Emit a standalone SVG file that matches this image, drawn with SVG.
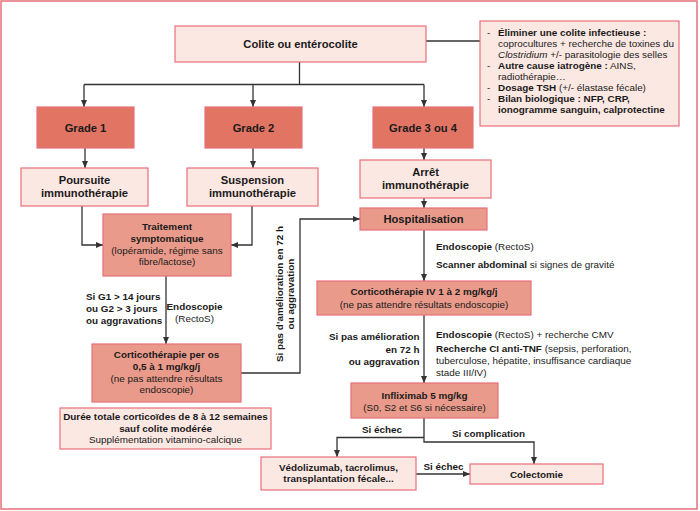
<svg xmlns="http://www.w3.org/2000/svg" width="700" height="511" viewBox="0 0 700 511">
<defs>
<style>
.frame{fill:#ffffff;stroke:#e6707a;stroke-width:1.5}
.dk{fill:#e27464;stroke:#e8707a;stroke-width:1.2}
.md{fill:#e99a8b;stroke:#e8707a;stroke-width:1.2}
.lt{fill:#fce8e3;stroke:#e8707a;stroke-width:1.2}
text{font-family:"Liberation Sans",Arial,sans-serif;fill:#1a1a1a}
.big{font-size:11.2px;font-weight:bold;text-anchor:middle}
.sb{font-size:9.9px;font-weight:bold}
.sn{font-size:9.9px}
.c{text-anchor:middle}
.r{text-anchor:end}
.b{font-weight:bold}
.i{font-style:italic}
.ln{fill:none;stroke:#333333;stroke-width:1.3}
</style>
<marker id="ar" markerUnits="userSpaceOnUse" markerWidth="7" markerHeight="6" viewBox="0 0 7 6" refX="7" refY="3" orient="auto">
<path d="M0,0 L7,3 L0,6 z" fill="#333333"/>
</marker>
</defs>
<rect class="frame" x="1" y="1" width="696" height="508"/>

<g id="connectors">
<path class="ln" d="M426,41 H480"/>
<path class="ln" d="M299.5,62 V84.5 M84,84.5 H424"/>
<path class="ln" d="M84,84.5 V107" marker-end="url(#ar)"/>
<path class="ln" d="M253,84.5 V107" marker-end="url(#ar)"/>
<path class="ln" d="M424,84.5 V107" marker-end="url(#ar)"/>
<path class="ln" d="M85,148 V168" marker-end="url(#ar)"/>
<path class="ln" d="M253,148 V168" marker-end="url(#ar)"/>
<path class="ln" d="M424,148 V160" marker-end="url(#ar)"/>
<path class="ln" d="M424,198 V208" marker-end="url(#ar)"/>
<path class="ln" d="M82,206 V245 H103" marker-end="url(#ar)"/>
<path class="ln" d="M252,206 V245 H231" marker-end="url(#ar)"/>
<path class="ln" d="M166,276 V344" marker-end="url(#ar)"/>
<path class="ln" d="M241,373 H300 V219 H360" marker-end="url(#ar)"/>
<path class="ln" d="M424,230 V281" marker-end="url(#ar)"/>
<path class="ln" d="M424,315 V383" marker-end="url(#ar)"/>
<path class="ln" d="M424,418 V442 H534 V464" marker-end="url(#ar)"/>
<path class="ln" d="M424,437.5 H337 V457" marker-end="url(#ar)"/>
<path class="ln" d="M416,474 H470" marker-end="url(#ar)"/>
</g>

<g id="colite">
<rect class="lt" x="175" y="26" width="251" height="36"/>
<text class="big" x="300.5" y="47.5">Colite ou entérocolite</text>
</g>

<g id="bilan">
<rect class="lt" x="480" y="21" width="199" height="105"/>
<text class="sn" x="487" y="35.7">-</text>
<text class="sn b" x="498" y="35.7">Éliminer une colite infectieuse :</text>
<text class="sn" x="498" y="46.8">coprocultures + recherche de toxines du</text>
<text class="sn" x="498" y="57.9"><tspan class="i">Clostridium</tspan> +/- parasitologie des selles</text>
<text class="sn" x="487" y="69">-</text>
<text class="sn" x="498" y="69"><tspan class="b">Autre cause iatrogène :</tspan> AINS,</text>
<text class="sn" x="498" y="79.6">radiothérapie…</text>
<text class="sn" x="487" y="90.7">-</text>
<text class="sn" x="498" y="90.7"><tspan class="b">Dosage TSH</tspan> (+/- élastase fécale)</text>
<text class="sn" x="487" y="101.8">-</text>
<text class="sn b" x="498" y="101.8">Bilan biologique : NFP, CRP,</text>
<text class="sn b" x="498" y="113.3">ionogramme sanguin, calprotectine</text>
</g>

<g id="grade1">
<rect class="dk" x="37" y="107" width="97" height="41"/>
<text class="big" x="85.5" y="131.5">Grade 1</text>
</g>
<g id="grade2">
<rect class="dk" x="205" y="107" width="97" height="41"/>
<text class="big" x="253.5" y="131.5">Grade 2</text>
</g>
<g id="grade34">
<rect class="dk" x="373" y="107" width="100" height="41"/>
<text class="big" x="423" y="131.5">Grade 3 ou 4</text>
</g>

<g id="poursuite">
<rect class="lt" x="21" y="168" width="127" height="38"/>
<text class="big" x="84.5" y="184">Poursuite</text>
<text class="big" x="84.5" y="196.8">immunothérapie</text>
</g>
<g id="suspension">
<rect class="lt" x="187" y="168" width="131" height="38"/>
<text class="big" x="252.5" y="184">Suspension</text>
<text class="big" x="252.5" y="196.8">immunothérapie</text>
</g>
<g id="arret">
<rect class="lt" x="360" y="160" width="131" height="38"/>
<text class="big" x="425.5" y="176">Arrêt</text>
<text class="big" x="425.5" y="189">immunothérapie</text>
</g>
<g id="hospitalisation">
<rect class="md" x="360" y="208" width="127" height="22"/>
<text class="big" x="423.5" y="222.8">Hospitalisation</text>
</g>

<g id="traitement">
<rect class="md" x="103" y="214" width="128" height="62"/>
<text class="sb c" x="167" y="230.3">Traitement</text>
<text class="sb c" x="167" y="242.3">symptomatique</text>
<text class="sn c" x="167" y="253.6">(lopéramide, régime sans</text>
<text class="sn c" x="167" y="265">fibre/lactose)</text>
</g>

<g id="cortico-os">
<rect class="md" x="92" y="344" width="149" height="58"/>
<text class="sb c" x="166.5" y="357.8">Corticothérapie per os</text>
<text class="sb c" x="166.5" y="370">0,5 à 1 mg/kg/j</text>
<text class="sn c" x="166.5" y="381.8">(ne pas attendre résultats</text>
<text class="sn c" x="166.5" y="393.4">endoscopie)</text>
</g>

<g id="duree">
<rect class="lt" x="60" y="408" width="211" height="41"/>
<text class="sb c" x="165.5" y="420.2">Durée totale corticoïdes de 8 à 12 semaines</text>
<text class="sb c" x="165.5" y="431.6">sauf colite modérée</text>
<text class="sn c" x="165.5" y="443">Supplémentation vitamino-calcique</text>
</g>

<g id="cortico-iv">
<rect class="md" x="317" y="281" width="214" height="34"/>
<text class="sb c" x="424" y="295.3">Corticothérapie IV 1 à 2 mg/kg/j</text>
<text class="sn c" x="424" y="308.3">(ne pas attendre résultats endoscopie)</text>
</g>

<g id="infliximab">
<rect class="md" x="351" y="383" width="147" height="35"/>
<text class="sb c" x="424.5" y="399">Infliximab 5 mg/kg</text>
<text class="sn c" x="424.5" y="411">(S0, S2 et S6 si nécessaire)</text>
</g>

<g id="vedolizumab">
<rect class="lt" x="261" y="457" width="155" height="33"/>
<text class="sb c" x="338.5" y="470.7">Védolizumab, tacrolimus,</text>
<text class="sb c" x="338.5" y="482">transplantation fécale...</text>
</g>

<g id="colectomie">
<rect class="lt" x="470" y="464" width="133" height="20"/>
<text class="sb c" x="536.5" y="477.6">Colectomie</text>
</g>

<g id="labels">
<text class="sb" x="86" y="300">Si G1 &gt; 14 jours</text>
<text class="sb" x="86" y="312.3">ou G2 &gt; 3 jours</text>
<text class="sb" x="86" y="324.2">ou aggravations</text>
<text class="sb c" x="194.5" y="309.5">Endoscopie</text>
<text class="sn c" x="194.5" y="321.8">(RectoS)</text>
<text class="sb c" transform="translate(282.5,294) rotate(-90)">Si pas d’amélioration en 72 h</text>
<text class="sb c" transform="translate(293.5,294) rotate(-90)">ou aggravation</text>
<text class="sn" x="436" y="250.2"><tspan class="b">Endoscopie</tspan> (RectoS)</text>
<text class="sn" x="436" y="268.4"><tspan class="b">Scanner abdominal</tspan> si signes de gravité</text>
<text class="sb r" x="419.5" y="340.2">Si pas amélioration</text>
<text class="sb r" x="419.5" y="352.9">en 72 h</text>
<text class="sb r" x="419.5" y="364.6">ou aggravation</text>
<text class="sn" x="436" y="338.4"><tspan class="b">Endoscopie</tspan> (RectoS) + recherche CMV</text>
<text class="sn" x="436" y="352.3"><tspan class="b">Recherche CI anti-TNF</tspan> (sepsis, perforation,</text>
<text class="sn" x="436" y="364.4">tuberculose, hépatite, insuffisance cardiaque</text>
<text class="sn" x="436" y="375.8">stade III/IV)</text>
<text class="sb" x="362" y="433.3">Si échec</text>
<text class="sb" x="452" y="436.8">Si complication</text>
<text class="sb" x="423.5" y="470.2">Si échec</text>
</g>
</svg>
